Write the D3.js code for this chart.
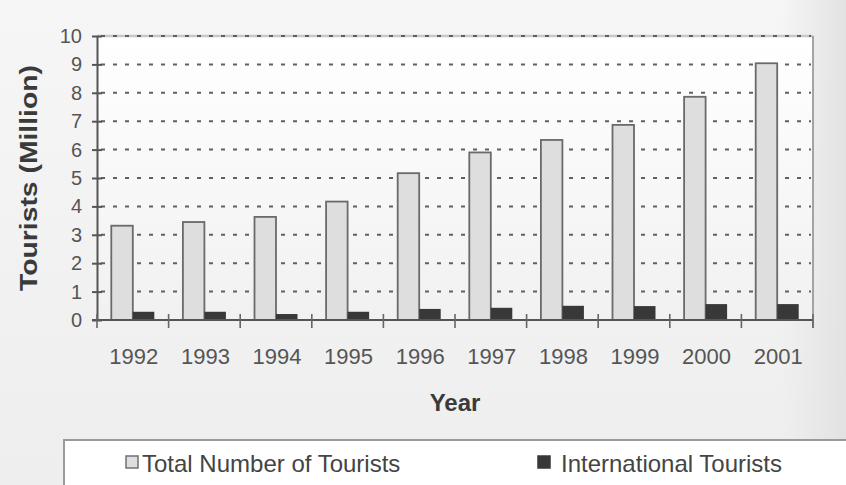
<!DOCTYPE html>
<html>
<head>
<meta charset="utf-8">
<script src="https://cdn.jsdelivr.net/npm/d3@7/dist/d3.min.js"></script>
<style>
  html, body { margin: 0; padding: 0; background: #f2f2f2; }
  svg { display: block; font-family: "Liberation Sans", Arial, sans-serif; }
</style>
</head>
<body>
<svg id="chart" width="846" height="485"></svg>
<script>
// Tourist arrivals, millions
const years = ["1992", "1993", "1994", "1995", "1996", "1997", "1998", "1999", "2000", "2001"];
const totalTourists = [3.32, 3.45, 3.63, 4.17, 5.17, 5.90, 6.34, 6.87, 7.86, 9.04];
const internationalTourists = [0.29, 0.29, 0.21, 0.29, 0.39, 0.43, 0.50, 0.49, 0.56, 0.56];
const yTicks = [0, 1, 2, 3, 4, 5, 6, 7, 8, 9, 10];
const seriesNames = ["Total Number of Tourists", "International Tourists"];
const seriesKeys = ["total", "intl"];

const W = 846, H = 485;
const plot = { left: 97, right: 813, top: 36, bottom: 320 };

const svg = d3.select("#chart");
const defs = svg.append("defs");

// page background: soft grey, darker toward the right edge
const bg = defs.append("linearGradient").attr("id", "bg").attr("x1", 0).attr("x2", 0).attr("y1", 0).attr("y2", 1);
bg.append("stop").attr("offset", "0").attr("stop-color", "#f6f6f6");
bg.append("stop").attr("offset", "1").attr("stop-color", "#eeeeee");
const edge = defs.append("linearGradient").attr("id", "edge").attr("x1", 0).attr("x2", 1).attr("y1", 0).attr("y2", 0);
edge.append("stop").attr("offset", "0").attr("stop-color", "#e4e4e4").attr("stop-opacity", 0);
edge.append("stop").attr("offset", "1").attr("stop-color", "#e2e2e2").attr("stop-opacity", 1);
const pg = defs.append("linearGradient").attr("id", "plotbg").attr("x1", 0).attr("x2", 0).attr("y1", 0).attr("y2", 1);
pg.append("stop").attr("offset", "0").attr("stop-color", "#ffffff");
pg.append("stop").attr("offset", "1").attr("stop-color", "#f1f1f1");

svg.append("rect").attr("width", W).attr("height", H).attr("fill", "url(#bg)");
svg.append("rect").attr("x", 780).attr("width", W - 780).attr("height", H).attr("fill", "url(#edge)");

// scales
const x = d3.scaleBand().domain(years).range([plot.left, plot.right]).paddingInner(0).paddingOuter(0);
const xs = d3.scaleBand().domain(seriesKeys).range([0, x.bandwidth()]).paddingInner(0).paddingOuter(0.665);
const y = d3.scaleLinear().domain([0, 10]).range([plot.bottom, plot.top]);

// plot area
svg.append("rect")
  .attr("x", plot.left).attr("y", plot.top)
  .attr("width", plot.right - plot.left).attr("height", plot.bottom - plot.top)
  .attr("fill", "url(#plotbg)");
svg.append("line")
  .attr("x1", plot.left).attr("x2", plot.right)
  .attr("y1", plot.top).attr("y2", plot.top)
  .attr("stroke", "#c8c8c8").attr("stroke-width", 2.5);
svg.append("line")
  .attr("x1", plot.right).attr("x2", plot.right)
  .attr("y1", plot.top).attr("y2", plot.bottom + 8)
  .attr("stroke", "#8a8a8a").attr("stroke-width", 1.5);

// dashed gridlines
svg.append("g")
  .selectAll("line")
  .data(yTicks.filter(d => d > 0))
  .join("line")
  .attr("x1", plot.left + 4).attr("x2", plot.right - 2)
  .attr("y1", d => y(d)).attr("y2", d => y(d))
  .attr("stroke", "#606060").attr("stroke-width", 2)
  .attr("stroke-dasharray", "4 8");

// bars
const data = years.map((yr, i) => ({ year: yr, total: totalTourists[i], intl: internationalTourists[i] }));
const groups = svg.append("g").selectAll("g")
  .data(data).join("g")
  .attr("transform", d => `translate(${x(d.year)},0)`);

groups.append("rect")
  .attr("x", xs("total")).attr("width", xs.bandwidth())
  .attr("y", d => y(d.total)).attr("height", d => y(0) - y(d.total))
  .attr("fill", "#dedede").attr("stroke", "#6a6a6a").attr("stroke-width", 1.8);

groups.append("rect")
  .attr("x", xs("intl")).attr("width", xs.bandwidth())
  .attr("y", d => y(d.intl)).attr("height", d => y(0) - y(d.intl))
  .attr("fill", "#383838");

// y axis
const yAxis = svg.append("g").attr("transform", `translate(${plot.left},0)`)
  .call(d3.axisLeft(y).tickValues(yTicks).tickSizeInner(5).tickSizeOuter(0).tickPadding(10));
yAxis.select(".domain").attr("stroke", "#555").attr("stroke-width", 2);
yAxis.selectAll(".tick line").attr("x2", 5).attr("x1", -5).attr("stroke", "#555").attr("stroke-width", 2);
yAxis.selectAll(".tick text").attr("font-size", 20).attr("fill", "#555").attr("font-family", "Liberation Sans, Arial, sans-serif");

// x axis: ticks at category boundaries
svg.append("line")
  .attr("x1", plot.left - 5).attr("x2", plot.right)
  .attr("y1", plot.bottom).attr("y2", plot.bottom)
  .attr("stroke", "#555").attr("stroke-width", 2);
const bounds = years.map(d => x(d)).concat([x(years[years.length - 1]) + x.bandwidth()]);
svg.append("g").selectAll("line")
  .data(bounds).join("line")
  .attr("x1", d => d).attr("x2", d => d)
  .attr("y1", plot.bottom - 6).attr("y2", plot.bottom + 8)
  .attr("stroke", "#666").attr("stroke-width", 1.6);
svg.append("g").selectAll("text")
  .data(years).join("text")
  .attr("x", d => x(d) + x.bandwidth() / 2 + 1)
  .attr("y", 364)
  .attr("text-anchor", "middle")
  .attr("font-size", 22).attr("fill", "#555")
  .text(d => d);

// axis titles
svg.append("text")
  .attr("x", (plot.left + plot.right) / 2).attr("y", 411)
  .attr("text-anchor", "middle")
  .attr("font-size", 24).attr("font-weight", "bold").attr("fill", "#3a3a3a")
  .text("Year");
svg.append("text")
  .attr("transform", "translate(37,178) rotate(-90)")
  .attr("text-anchor", "middle")
  .attr("font-size", 23).attr("font-weight", "bold").attr("fill", "#3a3a3a")
  .attr("textLength", 226).attr("lengthAdjust", "spacingAndGlyphs")
  .text("Tourists (Million)");

// legend
svg.append("rect")
  .attr("x", 64).attr("y", 440).attr("width", 820).attr("height", 80)
  .attr("fill", "#ffffff").attr("stroke", "#9a9a9a").attr("stroke-width", 2);
const legendX = [126, 538];
const legendFill = ["#dedede", "#383838"];
const legend = svg.append("g").selectAll("g")
  .data(seriesNames).join("g")
  .attr("transform", (d, i) => `translate(${legendX[i]},456)`);
legend.append("rect")
  .attr("width", 12).attr("height", 12)
  .attr("fill", (d, i) => legendFill[i])
  .attr("stroke", (d, i) => i === 0 ? "#707070" : "#383838").attr("stroke-width", 1.5);
legend.append("text")
  .attr("x", (d, i) => i === 0 ? 16 : 23).attr("y", 16)
  .attr("font-size", 24).attr("fill", "#444")
  .text(d => d);
</script>
</body>
</html>
